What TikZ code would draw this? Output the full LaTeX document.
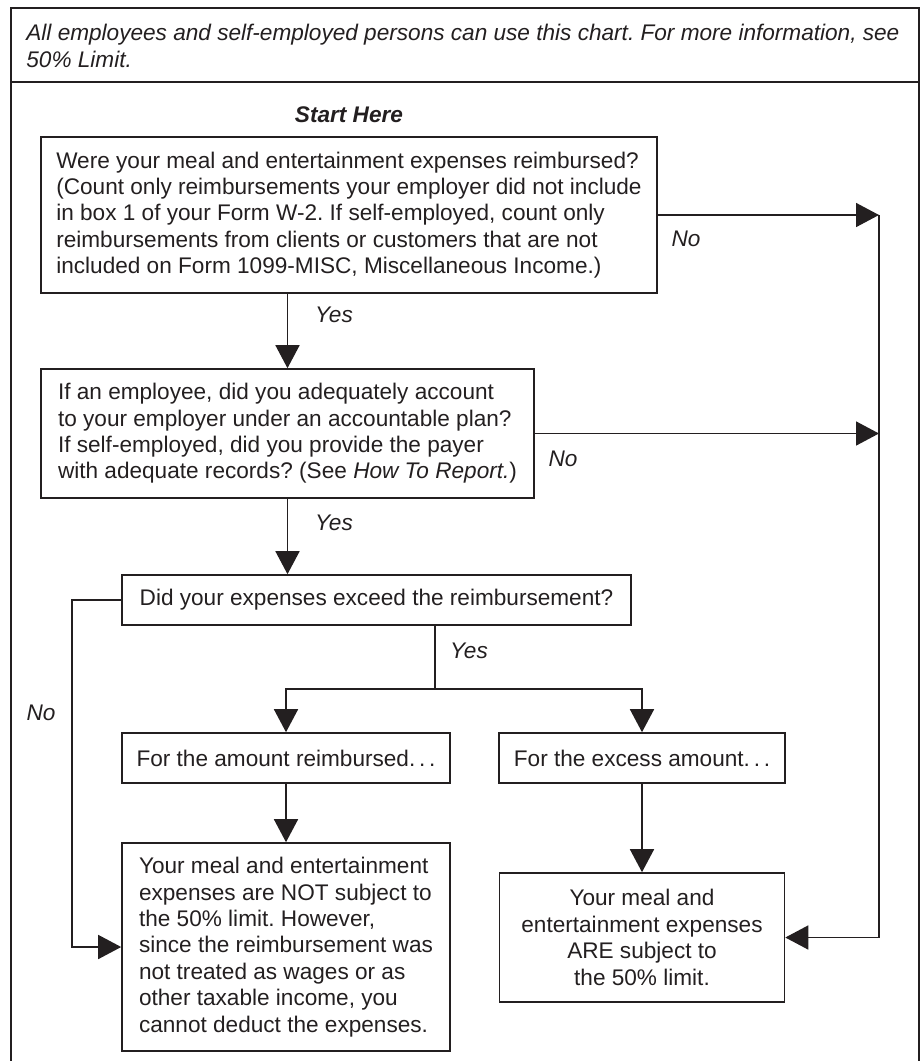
\documentclass[tikz,border=0pt]{standalone}
\usepackage{fontspec}
\setmainfont{Liberation Sans}
\usetikzlibrary{arrows.meta}
\definecolor{ink}{HTML}{231F20}
\frenchspacing
\tikzset{
  txt/.style={font=\fontsize{11.3}{13.2}\selectfont, text=ink},
  box/.style={txt, draw=ink, line width=0.8pt, inner sep=0pt, align=left},
  lbl/.style={font=\fontsize{11.3}{13.2}\selectfont\itshape, text=ink, inner sep=0pt},
  wire/.style={draw=ink, line width=0.8pt},
  flow/.style={wire, -{Triangle[length=11.5pt,width=12pt]}},
}
\begin{document}
\begin{tikzpicture}[x=0.5pt,y=-0.5pt]
  \useasboundingbox (0,0) rectangle (920,1061);
  \draw[wire] (11,1061) -- (11,8) -- (919,8) -- (919,1061);
  \draw[wire] (11,82) -- (919,82);
  \node[lbl, align=left, anchor=west] (intro) at (26,46)
    {All employees and self-employed persons can use this chart. For more information, see\\50\% Limit.};
  \node[lbl, font=\fontsize{11.3}{13.2}\selectfont\bfseries\itshape] (start) at (349,115) {Start Here};
  % questions
  \node[box, minimum width=308pt, minimum height=78pt] (q1) at (349,215)
    {Were your meal and entertainment expenses reimbursed?\\
     (Count only reimbursements your employer did not include\\
     in box 1 of your Form W-2. If self-employed, count only\\
     reimbursements from clients or customers that are not\\
     included on Form 1099-MISC, Miscellaneous Income.)};
  \node[box, minimum width=246.5pt, minimum height=64.5pt] (q2) at (287.5,433.5)
    {If an employee, did you adequately account\\
     to your employer under an accountable plan?\\
     If self-employed, did you provide the payer\\
     with adequate records? (See \textit{How To Report.})};
  \node[box, minimum width=254.5pt, minimum height=25pt] (q3) at (376.5,600)
    {Did your expenses exceed the reimbursement?};
  \node[box, minimum width=164pt, minimum height=25pt] (amt) at (286,758)
    {For the amount reimbursed.\,.\,.};
  \node[box, minimum width=143pt, minimum height=25pt] (exc) at (642,758)
    {For the excess amount.\,.\,.};
  % answers
  \node[box, minimum width=164pt, minimum height=104pt] (notsub) at (286,947)
    {Your meal and entertainment\\
     expenses are NOT subject to\\
     the 50\% limit. However,\\
     since the reimbursement was\\
     not treated as wages or as\\
     other taxable income, you\\
     cannot deduct the expenses.};
  \node[box, align=center, minimum width=142.5pt, minimum height=64.5pt] (sub) at (642,937.5)
    {Your meal and\\
     entertainment expenses\\
     ARE subject to\\
     the 50\% limit.};
  \coordinate (rail) at (879,937.5);
  \coordinate (fork) at (435,689);
  \draw[flow] (q1.south -| q2.north) -- (q2.north);
  \draw[flow] (q2.south) -- (q2.south |- q3.north);
  \draw[flow] (q1.east) -- (q1.east -| rail);
  \draw[flow] (q2.east) -- (q2.east -| rail);
  \draw[flow] (q1.east -| rail) -- (rail) -- (sub.east);
  \draw[flow] (q3.west) -- ++(-49,0) |- (notsub.west);
  \draw[wire] (q3.south -| fork) -- (fork);
  \draw[flow] (fork) -| (amt.north);
  \draw[flow] (fork) -| (exc.north);
  \draw[flow] (amt.south) -- (notsub.north);
  \draw[flow] (exc.south) -- (sub.north);
  \node[lbl] (yes1) at (334,315) {Yes};
  \node[lbl] (yes2) at (334,523) {Yes};
  \node[lbl] (yes3) at (469,651) {Yes};
  \node[lbl] (no1) at (686,239) {No};
  \node[lbl] (no2) at (563,459) {No};
  \node[lbl] (no3) at (41,713) {No};
\end{tikzpicture}
\end{document}
